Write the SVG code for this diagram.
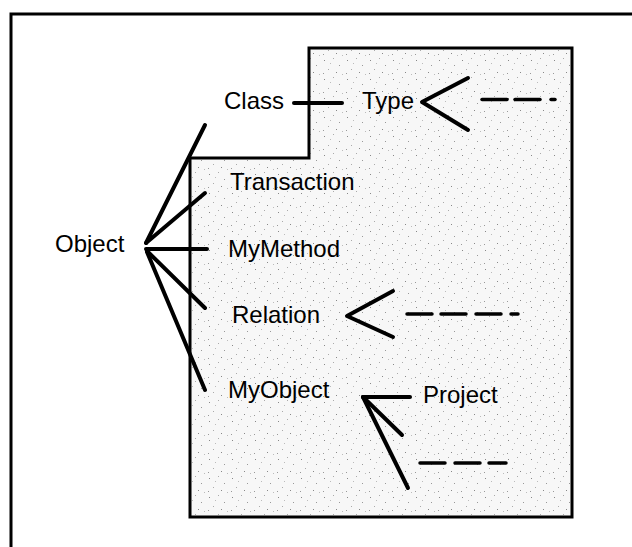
<svg xmlns="http://www.w3.org/2000/svg" width="632" height="547" viewBox="0 0 632 547">
<defs>
<pattern id="stipple" width="23" height="19" patternUnits="userSpaceOnUse">
<rect width="23" height="19" fill="#f7f7f7"/>
<rect x="2" y="3" width="1" height="1" fill="#888"/>
<rect x="11" y="1" width="1" height="1" fill="#aaa"/>
<rect x="17" y="8" width="1" height="1" fill="#999"/>
<rect x="6" y="12" width="1" height="1" fill="#aaa"/>
<rect x="14" y="15" width="1" height="1" fill="#888"/>
<rect x="20" y="17" width="1" height="1" fill="#bbb"/>
<rect x="8" y="6" width="1" height="1" fill="#bbb"/>
<rect x="1" y="16" width="1" height="1" fill="#999"/>
</pattern>
</defs>
<style>
.lbl{font-family:"Liberation Sans",Arial,Helvetica,sans-serif;font-size:24px;fill:#000}
.ln{stroke:#000;stroke-width:4;fill:none;stroke-linecap:round;stroke-linejoin:round}
.ds{stroke:#000;stroke-width:3.5;fill:none;stroke-linecap:round}
.frame{stroke:#000;stroke-width:3;fill:none}
</style>
<rect width="632" height="547" fill="#fff"/>
<g id="frame">
<path class="frame" d="M11,549 V14 H634"/>
</g>
<g id="scope">
<path d="M190,517 V158 H309 V48 H572 V517 Z" fill="url(#stipple)" stroke="#000" stroke-width="3"/>
</g>
<g id="connectors">
<line class="ln" x1="146" y1="243" x2="205" y2="125"/>
<line class="ln" x1="146" y1="243" x2="205" y2="193"/>
<line class="ln" x1="146" y1="249" x2="207" y2="249"/>
<line class="ln" x1="147" y1="251" x2="205" y2="308"/>
<line class="ln" x1="147" y1="252" x2="205" y2="390"/>
<line class="ln" x1="294" y1="103" x2="342" y2="103"/>
<polyline class="ln" points="468,78 422,102 468,130"/>
<line class="ds" x1="482" y1="99.5" x2="507" y2="99.5"/>
<line class="ds" x1="515" y1="99.5" x2="540" y2="99.5"/>
<line class="ds" x1="551" y1="99.5" x2="555" y2="99.5"/>
<polyline class="ln" points="393,291 347,316 393,337"/>
<line class="ds" x1="407" y1="314" x2="432" y2="314"/>
<line class="ds" x1="441" y1="314" x2="466" y2="314"/>
<line class="ds" x1="476" y1="314" x2="501" y2="314"/>
<line class="ds" x1="511" y1="314" x2="518" y2="314"/>
<line class="ln" x1="363" y1="397" x2="410" y2="397"/>
<line class="ln" x1="363" y1="397" x2="402" y2="435"/>
<line class="ln" x1="363" y1="397" x2="408" y2="488"/>
<line class="ds" x1="420" y1="463" x2="445" y2="463"/>
<line class="ds" x1="455" y1="463" x2="480" y2="463"/>
<line class="ds" x1="489" y1="463" x2="506" y2="463"/>
</g>
<g id="node-object"><text class="lbl" x="55" y="252">Object</text></g>
<g id="node-class"><text class="lbl" x="224" y="109">Class</text></g>
<g id="node-type"><text class="lbl" x="362" y="109">Type</text></g>
<g id="node-transaction"><text class="lbl" x="230" y="190">Transaction</text></g>
<g id="node-mymethod"><text class="lbl" x="228" y="257">MyMethod</text></g>
<g id="node-relation"><text class="lbl" x="232" y="323">Relation</text></g>
<g id="node-myobject"><text class="lbl" x="228" y="398">MyObject</text></g>
<g id="node-project"><text class="lbl" x="423" y="403">Project</text></g>
</svg>
